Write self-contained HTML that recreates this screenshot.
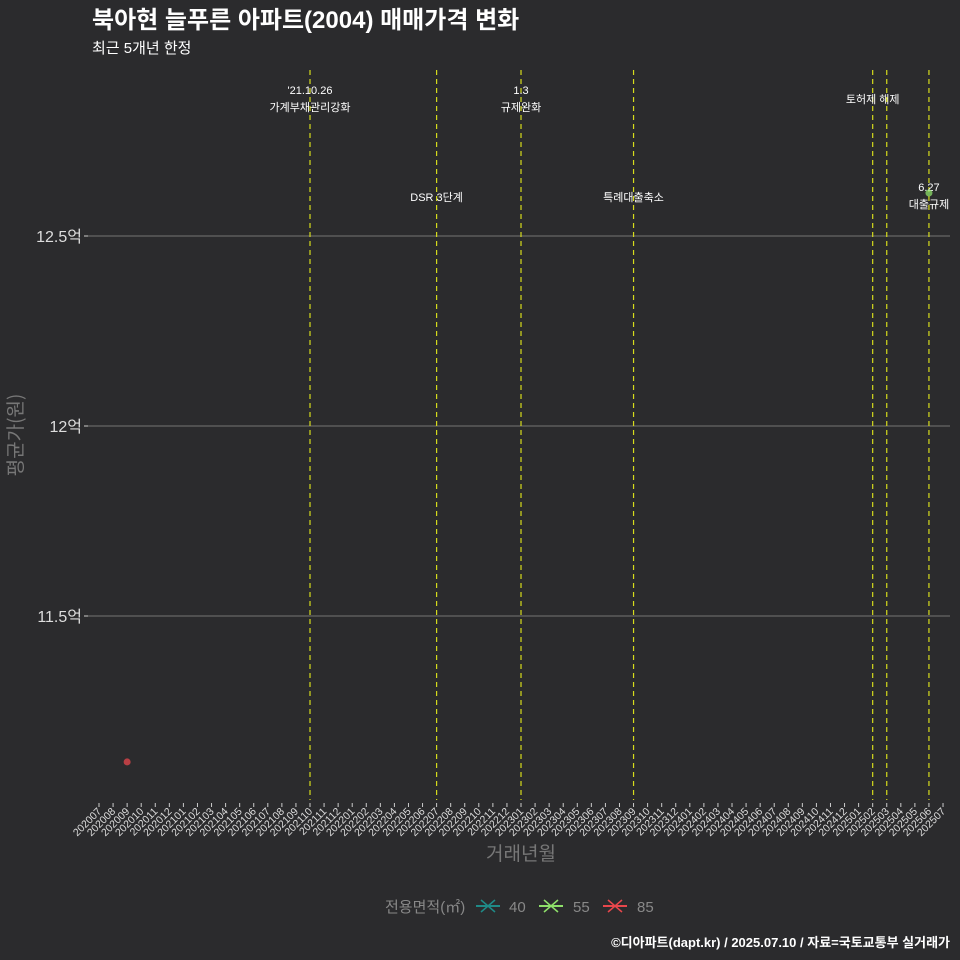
<!DOCTYPE html>
<html><head><meta charset="utf-8"><style>
html,body{margin:0;padding:0;background:#2b2b2d;width:960px;height:960px;overflow:hidden;font-family:"Liberation Sans","Noto Sans CJK KR",sans-serif;}
svg{display:block}
svg text{font-family:"Liberation Sans","Noto Sans CJK KR",sans-serif;}
</style></head><body>
<svg id="c" width="960" height="960" xmlns="http://www.w3.org/2000/svg">
<rect width="960" height="960" fill="#2b2b2d"/>
<text x="92" y="28" fill="#fff" font-size="24" font-weight="bold">북아현 늘푸른 아파트(2004) 매매가격 변화</text>
<text x="92" y="53" fill="#fff" font-size="15">최근 5개년 한정</text>
<g id="grid"></g><g id="vl"></g><g id="pts"></g><g id="xa"></g>
<text transform="translate(22,435) rotate(-90)" text-anchor="middle" fill="#777" font-size="19" style="font-family:'Noto Sans CJK KR',sans-serif">평균가(원)</text>
<text x="521" y="860" text-anchor="middle" fill="#777" font-size="19">거래년월</text>
<g>
<text x="385" y="912" fill="#888" font-size="15">전용면적(㎡)</text>
<g><line x1="476" y1="906" x2="500" y2="906" stroke="#1f8a87" stroke-width="2"/><path d="M481 900l14 12M495 900l-14 12" stroke="#1f8a87" stroke-width="1.5"/><text x="509" y="912" fill="#888" font-size="15">40</text></g>
<g><line x1="539" y1="906" x2="563" y2="906" stroke="#8ee06a" stroke-width="2"/><path d="M544 900l14 12M558 900l-14 12" stroke="#8ee06a" stroke-width="1.5"/><text x="573" y="912" fill="#888" font-size="15">55</text></g>
<g><line x1="603" y1="906" x2="627" y2="906" stroke="#e8474c" stroke-width="2"/><path d="M608 900l14 12M622 900l-14 12" stroke="#e8474c" stroke-width="1.5"/><text x="637" y="912" fill="#888" font-size="15">85</text></g>
</g>
<text x="950" y="947" text-anchor="end" fill="#fff" font-size="13" font-weight="bold">©디아파트(dapt.kr) / 2025.07.10 / 자료=국토교통부 실거래가</text>
</svg>
<script>
const yTicks=[11.5,12,12.5];
const yTickLabels=["11.5억","12억","12.5억"];
const eventMonths=["202110","202207","202301","202309","202502","202503","202506"];
const eventLabels=[["'21.10.26","가계부채관리강화"],["DSR 3단계"],["1.3","규제완화"],["특례대출축소"],["토허제 해제"],[""],["6.27","대출규제"]];
const eventLabelY=[[94,111],[201],[94,111],[201],[103],[],[191,208]];
const pointMonths=["202009","202506"];
const pointValues=[11.116,12.613];
const pointAreas=["85","55"];
const colors={"40":"#1f8a87","55":"#8ee06a","85":"#e8474c"};
const months=[];for(let y=2020;y<=2025;y++)for(let m=1;m<=12;m++){const s=y+String(m).padStart(2,'0');if(s>="202007"&&s<="202507")months.push(s);}
const X=s=>99+months.indexOf(s)*14.067;
const Y=v=>236+(12.5-v)*380;
const NS="http://www.w3.org/2000/svg";
function mk(p,t,a){const e=document.createElementNS(NS,t);for(const k in a)e.setAttribute(k,a[k]);p.appendChild(e);return e;}
const grid=document.getElementById('grid');
yTicks.forEach((v,i)=>{
 const l=mk(grid,'line',{x1:88,x2:950,y1:Y(v),y2:Y(v),stroke:'#666','stroke-width':1.2});
 
 
 const tk=mk(grid,'line',{x1:84,x2:88,y1:Y(v),y2:Y(v),stroke:'#ccc'});
 
 
 const t=mk(grid,'text',{x:82,y:Y(v)+6,'text-anchor':'end',fill:'#ddd','font-size':16});
 t.textContent=yTickLabels[i];
 
 
});
const vl=document.getElementById('vl');
eventMonths.forEach((m,i)=>{
 const l=mk(vl,'line',{x1:X(m),x2:X(m),y1:70,y2:800,stroke:'#d6dc1c','stroke-width':1.2,'stroke-dasharray':'5,4'});
 
 
 eventLabels[i].forEach((s,j)=>{if(!s)return;
  const t=mk(vl,'text',{x:X(m),y:eventLabelY[i][j],'text-anchor':'middle',fill:'#fff','font-size':11});
  t.textContent=s;
  
  
 });
});
const pts=document.getElementById('pts');
pointMonths.forEach((m,i)=>{
 const c=mk(pts,'circle',{cx:X(m),cy:Y(pointValues[i]),r:3.5,fill:colors[pointAreas[i]],'fill-opacity':0.75});
 
 
});
const xa=document.getElementById('xa');
months.forEach(m=>{
 const x=X(m);
 const tk=mk(xa,'line',{x1:x,x2:x,y1:803,y2:807,stroke:'#ccc'});
 
 
 const t=mk(xa,'text',{transform:`translate(${x+3},${812}) rotate(-45)`,'text-anchor':'end',fill:'#ddd','font-size':10.5});
 t.textContent=m;
 
 
});
</script>
</body></html>
